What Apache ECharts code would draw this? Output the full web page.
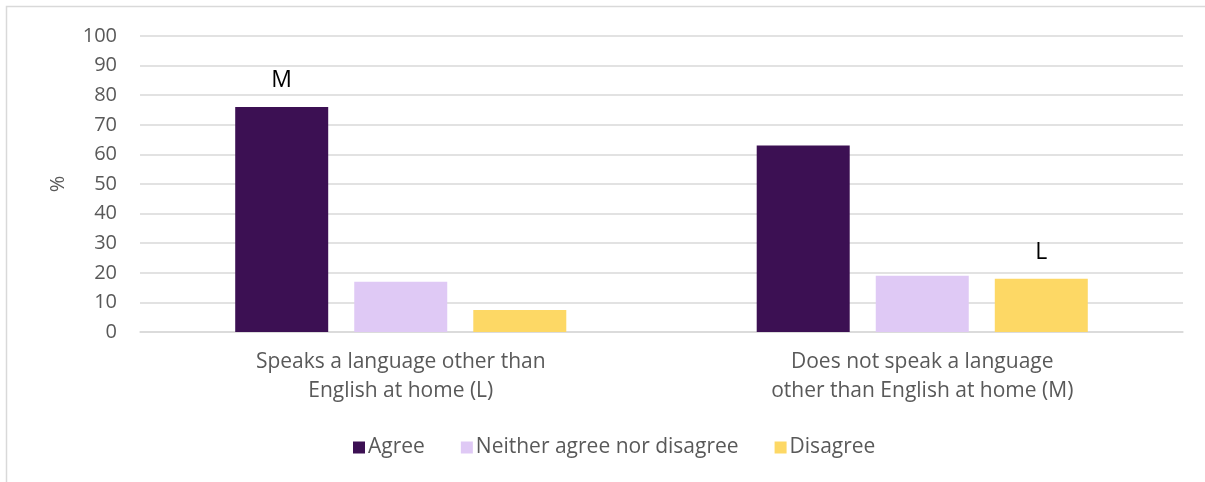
<!DOCTYPE html>
<html>
<head>
<meta charset="utf-8">
<script src="https://cdn.jsdelivr.net/npm/echarts@6/dist/echarts.min.js"></script>
<style>
  html, body { margin: 0; padding: 0; background: #fff; }
  #chart { width: 1205px; height: 482px; }
</style>
</head>
<body>
<div id="chart"></div>
<script>
// Groups along the x axis
const categories = [
  'Speaks a language other than\nEnglish at home (L)',
  'Does not speak a language\nother than English at home (M)'
];

// Responses, in percent
const seriesNames = ['Agree', 'Neither agree nor disagree', 'Disagree'];
const agree = [76, 63];
const neither = [17, 19];
const disagree = [7.4, 18];

// Significance markers shown above bars
const agreeMarks = ['M', ''];
const neitherMarks = ['', ''];
const disagreeMarks = ['', 'L'];

const yTicks = { min: 0, max: 100, interval: 10 };

const colors = ['#3c1053', '#dfc9f5', '#fdd865'];
const fontFamily = '"Open Sans", Lato, sans-serif';

function makeSeries(name, values, marks, color) {
  return {
    name: name,
    type: 'bar',
    barWidth: 93,
    barGap: '28%',
    itemStyle: { color: color },
    data: values,
    label: {
      show: true,
      position: 'top',
      distance: 15,
      color: '#000',
      fontSize: 23,
      fontFamily: fontFamily,
      formatter: p => marks[p.dataIndex]
    }
  };
}

const chart = echarts.init(document.getElementById('chart'), null, { renderer: 'canvas' });
chart.setOption({
  animation: false,
  backgroundColor: '#fff',
  textStyle: { fontFamily: fontFamily },
  graphic: [{
    type: 'rect',
    shape: { x: 6.5, y: 6.5, width: 1220, height: 500 },
    style: { fill: 'none', stroke: '#d9d9d9', lineWidth: 1.5 },
    silent: true,
    z: -1
  }],
  grid: { left: 140, right: 22, top: 36, bottom: 150, containLabel: false },
  legend: {
    data: seriesNames,
    top: 432,
    left: 348,
    itemWidth: 12,
    itemHeight: 12,
    itemGap: 36,
    icon: 'rect',
    textStyle: { fontSize: 21, color: '#595959', fontFamily: fontFamily, padding: [0, 0, 0, -2] }
  },
  xAxis: {
    type: 'category',
    data: categories,
    axisLine: { show: true, lineStyle: { color: '#d9d9d9', width: 1.5 } },
    axisTick: { show: false },
    axisLabel: {
      margin: 16,
      fontSize: 21,
      lineHeight: 29,
      color: '#595959',
      fontFamily: fontFamily,
      align: 'center'
    }
  },
  yAxis: {
    type: 'value',
    min: yTicks.min,
    max: yTicks.max,
    interval: yTicks.interval,
    name: '%',
    nameLocation: 'middle',
    nameRotate: 90,
    nameGap: 72,
    nameTextStyle: { fontSize: 20, color: '#595959', fontFamily: fontFamily },
    axisLine: { show: false },
    axisTick: { show: false },
    splitLine: { lineStyle: { color: '#d9d9d9', width: 1.5 } },
    axisLabel: { margin: 23, fontSize: 20, color: '#595959', fontFamily: fontFamily }
  },
  series: [
    makeSeries(seriesNames[0], agree, agreeMarks, colors[0]),
    makeSeries(seriesNames[1], neither, neitherMarks, colors[1]),
    makeSeries(seriesNames[2], disagree, disagreeMarks, colors[2])
  ]
});
</script>
</body>
</html>
